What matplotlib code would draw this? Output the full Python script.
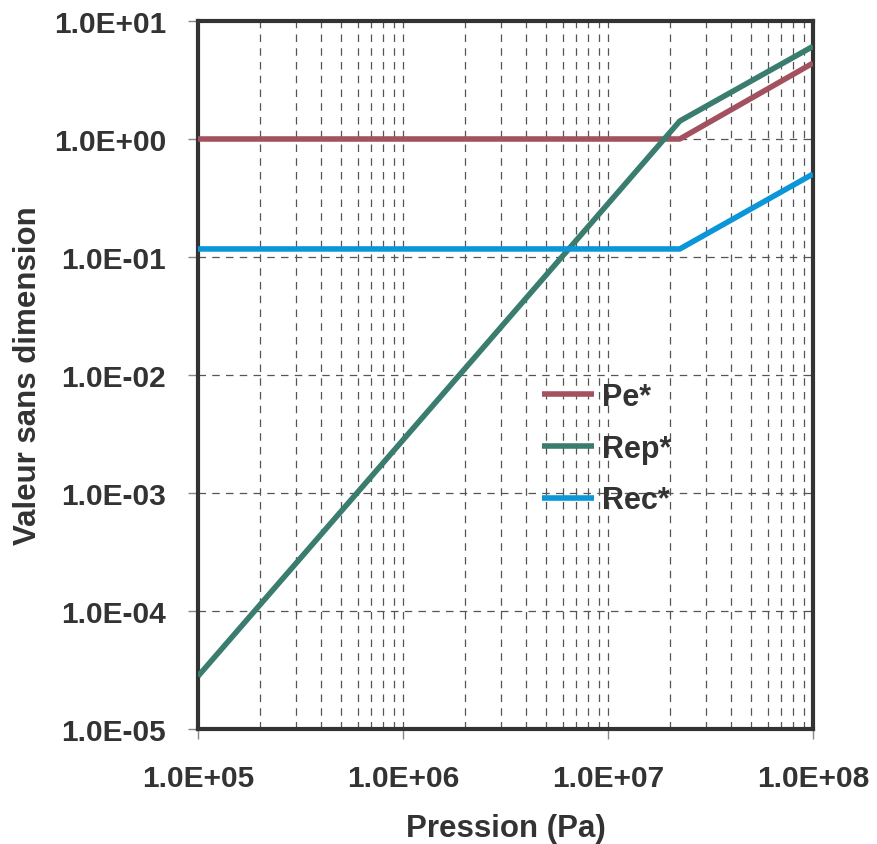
import matplotlib
matplotlib.use("Agg")
import matplotlib.pyplot as plt

plt.rcParams['font.family'] = ['Liberation Sans', 'DejaVu Sans']

pression = [1.0e5, 2.24e7, 1.0e8]
pe = [1.0, 1.0, 4.4]
rep = [2.8e-5, 1.42, 6.1]
rec = [0.117, 0.117, 0.505]
series_names = ["Pe*", "Rep*", "Rec*"]
series_colors = ["#A3505F", "#3A7D6E", "#0A96D8"]

x_ticks = [1e5, 1e6, 1e7, 1e8]
x_ticklabels = ["1.0E+05", "1.0E+06", "1.0E+07", "1.0E+08"]
y_ticks = [1e-5, 1e-4, 1e-3, 1e-2, 1e-1, 1e0, 1e1]
y_ticklabels = ["1.0E-05", "1.0E-04", "1.0E-03", "1.0E-02", "1.0E-01", "1.0E+00", "1.0E+01"]

txt = "#333333"
fig = plt.figure(figsize=(8.77, 8.45), dpi=100)
ax = fig.add_axes([198/877, 1-730/845, (813-198)/877, (730-22)/845])
ax.set_xscale('log')
ax.set_yscale('log')
ax.set_xlim(1e5, 1e8)
ax.set_ylim(1e-5, 1e1)

for vals, name, col in zip([pe, rep, rec], series_names, series_colors):
    ax.plot(pression, vals, color=col, lw=4, label=name, solid_capstyle='butt', zorder=3)

ax.set_xticks(x_ticks)
ax.set_xticklabels(x_ticklabels)
ax.set_yticks(y_ticks)
ax.set_yticklabels(y_ticklabels)
ax.yaxis.set_minor_locator(matplotlib.ticker.NullLocator())
ax.xaxis.set_minor_locator(matplotlib.ticker.LogLocator(base=10, subs=range(2, 10)))
ax.xaxis.set_minor_formatter(matplotlib.ticker.NullFormatter())

ax.grid(True, which='major', axis='both', color='#555555', lw=0.9, ls=(0, (6, 5)))
ax.grid(True, which='minor', axis='x', color='#555555', lw=0.9, ls=(0, (6, 5)))
ax.set_axisbelow(True)

ax.tick_params(axis='both', which='major', direction='out', length=7, width=1, color='#888888',
               labelsize=21.5, labelcolor=txt)
ax.tick_params(axis='y', pad=16)
ax.tick_params(axis='x', pad=18)
ax.tick_params(axis='x', which='minor', length=0)
for lab in ax.get_xticklabels() + ax.get_yticklabels():
    lab.set_fontweight('bold')

for s in ax.spines.values():
    s.set_color('#333333')
    s.set_linewidth(3)

ax.set_xlabel("Pression (Pa)", fontsize=22.5, fontweight='bold', color=txt, labelpad=15)
ax.set_ylabel("Valeur sans dimension", fontsize=22.5, fontweight='bold', color=txt, labelpad=8)

leg = ax.legend(loc='upper left', frameon=False,
                fontsize=22, handlelength=1.7, handletextpad=0.26, labelspacing=0.71,
                borderaxespad=0, borderpad=0)
for t in leg.get_texts():
    t.set_fontweight('bold')
    t.set_color(txt)
leg.set_bbox_to_anchor((542/877, 1-383/845), transform=fig.transFigure)

fig.savefig("out.png", dpi=100)
